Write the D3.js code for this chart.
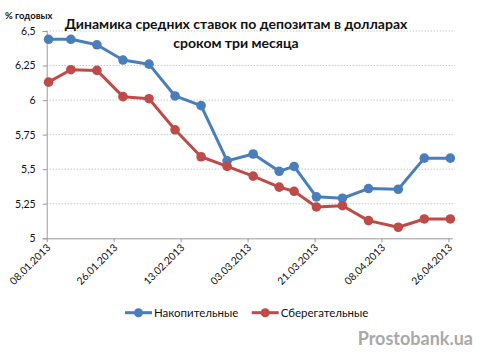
<!DOCTYPE html>
<html><head><meta charset="utf-8">
<script src="https://cdn.jsdelivr.net/npm/d3@7"></script>
<style>body{margin:0;background:#fff}svg{display:block}</style>
</head><body>
<svg id="c" width="480" height="363"></svg>
<script>
const dates = ["08.01.2013","14.01.2013","21.01.2013","28.01.2013","04.02.2013","11.02.2013","18.02.2013","25.02.2013","04.03.2013","11.03.2013","15.03.2013","21.03.2013","28.03.2013","04.04.2013","12.04.2013","19.04.2013","26.04.2013"];
const nakop = [6.44,6.44,6.40,6.29,6.26,6.03,5.96,5.56,5.61,5.485,5.52,5.30,5.29,5.36,5.355,5.58,5.58];
const sber  = [6.13,6.22,6.215,6.025,6.01,5.785,5.59,5.52,5.45,5.37,5.34,5.227,5.236,5.128,5.08,5.14,5.14];
const seriesNames = ["Накопительные","Сберегательные"];
const yTicks = [5,5.25,5.5,5.75,6,6.25,6.5];
const xTickLabels = ["08.01.2013","26.01.2013","13.02.2013","03.03.2013","21.03.2013","08.04.2013","26.04.2013"];
const title = ["Динамика средних ставок по депозитам в долларах","сроком три месяца"];
const yUnit = "% годовых";
const watermark = "Prostobank.ua";

const parse = d3.timeParse("%d.%m.%Y");
const colors = ["#4a7ebb","#be4b48"];
const svg = d3.select("#c");
const font = "Lato, 'Noto Sans', sans-serif";

const x = d3.scaleTime().domain([parse("08.01.2013"), parse("27.04.2013")]).range([46.7, 452.2]);
const y = d3.scaleLinear().domain([5,6.5]).range([238.3, 31]);
const half = 12*3600*1000;

// gridlines
svg.append("g").selectAll("line").data(yTicks.filter(v=>v>5)).join("line")
  .attr("x1",46.7).attr("x2",455).attr("y1",d=>y(d)).attr("y2",d=>y(d))
  .attr("stroke","#b0b0b0").attr("stroke-width",1).attr("stroke-dasharray","1,2");

// y axis
const ya = svg.append("g").attr("transform","translate(46.7,0)")
  .call(d3.axisLeft(y).tickValues(yTicks).tickSize(4).tickPadding(7).tickFormat(d=>String(d).replace(".",",")));
ya.select(".domain").attr("stroke","#9a9a9a");
ya.selectAll(".tick line").attr("stroke","#9a9a9a");
ya.selectAll("text").attr("font-family",font).attr("font-size","10.5px").attr("fill","#111");

// x axis
const xa = svg.append("g").attr("transform","translate(0,238.3)")
  .call(d3.axisBottom(x).tickValues(xTickLabels.map(parse)).tickSize(4).tickSizeOuter(0).tickFormat(d3.timeFormat("%d.%m.%Y")));
xa.select(".domain").attr("stroke","#9a9a9a");
xa.selectAll(".tick line").attr("stroke","#9a9a9a");
xa.selectAll("text").attr("font-family",font).attr("font-size","10.3px").attr("fill","#111")
  .attr("text-anchor","end").attr("dy",0).attr("y",0)
  .attr("transform","translate(4,10) rotate(-45)");

// series
[nakop, sber].forEach((vals,i)=>{
  const pts = vals.map((v,j)=>[x(+parse(dates[j])+half), y(v)]);
  svg.append("path").attr("d", d3.line()(pts)).attr("fill","none")
    .attr("stroke",colors[i]).attr("stroke-width",3).attr("stroke-linejoin","round");
  svg.append("g").selectAll("circle").data(pts).join("circle")
    .attr("cx",d=>d[0]).attr("cy",d=>d[1]).attr("r",4.8).attr("fill",colors[i]);
});

// title
svg.append("g").selectAll("text").data(title).join("text")
  .attr("x",236).attr("y",(d,i)=>29+i*18.5).attr("text-anchor","middle")
  .attr("font-family",font).attr("font-weight","bold").attr("font-size","14px").attr("fill","#111")
  .text(d=>d);

svg.append("text").attr("x",5).attr("y",19).attr("font-family",font).attr("font-weight","bold")
  .attr("font-size","9.5px").attr("fill","#111").text(yUnit);

// legend
const lg = svg.append("g");
const lx = [125, 251.7];
seriesNames.forEach((n,i)=>{
  lg.append("line").attr("x1",lx[i]).attr("x2",lx[i]+27).attr("y1",312.7).attr("y2",312.7)
    .attr("stroke",colors[i]).attr("stroke-width",3);
  lg.append("circle").attr("cx",lx[i]+13.5).attr("cy",312.7).attr("r",4.5).attr("fill",colors[i]);
  lg.append("text").attr("x",lx[i]+29).attr("y",316.7).attr("font-family",font)
    .attr("font-size","11.5px").attr("fill","#111").text(n);
});

svg.append("text").attr("x",473).attr("y",345).attr("text-anchor","end")
  .attr("font-family",font).attr("font-weight","bold").attr("font-size","18px")
  .attr("fill","#a9a9a9").text(watermark);
</script>
</body></html>
